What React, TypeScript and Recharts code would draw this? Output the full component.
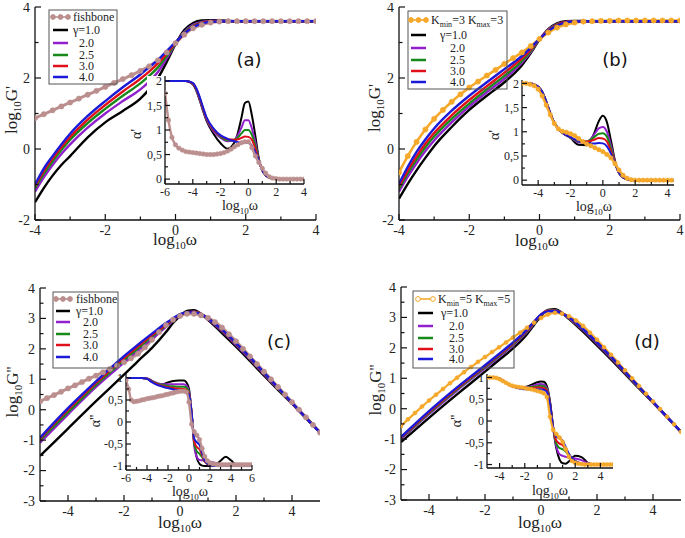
import React from 'react';
import { LineChart, Line, XAxis, YAxis } from 'recharts';

const FONT = "'Liberation Serif','DejaVu Serif',serif";
const SANS = "'DejaVu Sans','Liberation Sans',sans-serif";
const COL = { k: '#000000', p: '#9120cc', g: '#17891b', r: '#e0101a', b: '#1a1ad8', fish: '#bc8f8f', orange: '#f5a82a' };

// ---------- Panel (a): log G' main ----------
const aX = [-4, -3.75, -3.5, -3.25, -3, -2.5, -2, -1.5, -1, -0.75, -0.5, -0.25, 0, 0.25, 0.5, 0.75, 1, 1.5, 2, 3, 4];
const aG1 = [-1.5, -1.1, -0.75, -0.45, -0.2, 0.33, 0.75, 1.07, 1.42, 1.68, 2.0, 2.45, 2.95, 3.35, 3.55, 3.62, 3.63, 3.61, 3.6, 3.6, 3.6];
const aG2 = [-1.2, -0.8, -0.45, -0.14, 0.13, 0.6, 1.0, 1.35, 1.68, 1.9, 2.17, 2.55, 2.96, 3.3, 3.5, 3.58, 3.61, 3.6, 3.6, 3.6, 3.6];
const aG25 = [-1.1, -0.7, -0.35, -0.03, 0.26, 0.73, 1.13, 1.5, 1.85, 2.06, 2.3, 2.62, 2.97, 3.28, 3.47, 3.56, 3.59, 3.6, 3.6, 3.6, 3.6];
const aG3 = [-1.05, -0.62, -0.27, 0.05, 0.34, 0.83, 1.24, 1.62, 1.98, 2.18, 2.41, 2.69, 2.99, 3.26, 3.45, 3.55, 3.59, 3.6, 3.6, 3.6, 3.6];
const aG4 = [-1.0, -0.55, -0.2, 0.13, 0.43, 0.93, 1.35, 1.74, 2.1, 2.3, 2.51, 2.76, 3.01, 3.25, 3.43, 3.53, 3.58, 3.6, 3.6, 3.6, 3.6];
const aFX = [-4, -3.75, -3.5, -3.25, -3, -2.75, -2.5, -2.25, -2, -1.75, -1.5, -1.25, -1, -0.75, -0.5, -0.25, 0, 0.25, 0.5, 0.75, 1, 1.25, 1.5, 1.75, 2, 2.25, 2.5, 2.75, 3, 3.25, 3.5, 3.75, 4];
const aF = [0.87, 0.98, 1.09, 1.2, 1.31, 1.42, 1.53, 1.64, 1.75, 1.86, 1.97, 2.08, 2.2, 2.33, 2.5, 2.72, 2.98, 3.22, 3.4, 3.5, 3.56, 3.59, 3.6, 3.6, 3.6, 3.6, 3.6, 3.6, 3.6, 3.6, 3.6, 3.6, 3.6];

// ---------- Panel (a) inset: alpha' ----------
const aiX = [-6, -5, -4.5, -4, -3.75, -3.5, -3.25, -3, -2.5, -2, -1.5, -1, -0.75, -0.5, -0.25, 0, 0.25, 0.5, 0.75, 1, 1.5, 2, 3, 4];
const aiG1 = [2, 2, 2, 1.93, 1.8, 1.6, 1.38, 1.18, 0.92, 0.73, 0.62, 0.75, 0.95, 1.25, 1.55, 1.58, 1.3, 0.88, 0.42, 0.18, 0.03, 0, 0, 0];
const aiG2 = [2, 2, 2, 1.94, 1.82, 1.62, 1.4, 1.2, 0.97, 0.84, 0.77, 0.8, 0.9, 1.05, 1.2, 1.2, 1.03, 0.75, 0.4, 0.18, 0.03, 0, 0, 0];
const aiG25 = [2, 2, 2, 1.95, 1.83, 1.64, 1.42, 1.22, 1.0, 0.86, 0.79, 0.8, 0.85, 0.93, 1.0, 1.0, 0.9, 0.68, 0.4, 0.18, 0.03, 0, 0, 0];
const aiG3 = [2, 2, 2, 1.95, 1.84, 1.65, 1.43, 1.23, 1.01, 0.88, 0.81, 0.8, 0.81, 0.84, 0.87, 0.86, 0.8, 0.62, 0.39, 0.18, 0.03, 0, 0, 0];
const aiG4 = [2, 2, 2, 1.96, 1.85, 1.67, 1.45, 1.25, 1.03, 0.89, 0.82, 0.77, 0.75, 0.74, 0.75, 0.74, 0.68, 0.55, 0.38, 0.18, 0.03, 0, 0, 0];
const aiFX = [-6, -5.75, -5.5, -5.25, -5, -4.75, -4.5, -4.25, -4, -3.75, -3.5, -3.25, -3, -2.75, -2.5, -2.25, -2, -1.75, -1.5, -1.25, -1, -0.75, -0.5, -0.25, 0, 0.25, 0.5, 0.75, 1, 1.25, 1.5, 1.75, 2, 2.25, 2.5, 2.75, 3, 3.25, 3.5, 3.75, 4];
const aiF = [1.75, 1.2, 0.85, 0.7, 0.63, 0.59, 0.56, 0.55, 0.54, 0.53, 0.52, 0.51, 0.5, 0.5, 0.5, 0.51, 0.52, 0.54, 0.57, 0.61, 0.66, 0.7, 0.74, 0.76, 0.76, 0.64, 0.47, 0.34, 0.22, 0.12, 0.05, 0.02, 0.01, 0, 0, 0, 0, 0, 0, 0, 0];

// ---------- Panel (b): log G' main ----------
const bX = [-4, -3.75, -3.5, -3.25, -3, -2.5, -2, -1.5, -1, -0.5, -0.25, 0, 0.25, 0.5, 0.75, 1, 1.5, 2, 3, 4];
const bG1 = [-1.4, -0.98, -0.6, -0.25, 0.08, 0.62, 1.1, 1.5, 1.88, 2.36, 2.7, 3.08, 3.38, 3.54, 3.6, 3.61, 3.6, 3.6, 3.6, 3.6];
const bG2 = [-1.2, -0.78, -0.4, -0.06, 0.24, 0.75, 1.2, 1.6, 1.98, 2.43, 2.73, 3.09, 3.36, 3.52, 3.58, 3.6, 3.6, 3.6, 3.6, 3.6];
const bG25 = [-1.12, -0.68, -0.3, 0.05, 0.35, 0.85, 1.28, 1.68, 2.06, 2.48, 2.76, 3.09, 3.34, 3.51, 3.57, 3.6, 3.6, 3.6, 3.6, 3.6];
const bG3 = [-1.05, -0.6, -0.2, 0.15, 0.45, 0.95, 1.38, 1.77, 2.15, 2.55, 2.8, 3.1, 3.33, 3.5, 3.57, 3.59, 3.6, 3.6, 3.6, 3.6];
const bG4 = [-0.98, -0.5, -0.08, 0.27, 0.58, 1.08, 1.5, 1.88, 2.25, 2.62, 2.85, 3.1, 3.32, 3.48, 3.56, 3.59, 3.6, 3.6, 3.6, 3.6];
const bKX = [-4, -3.75, -3.5, -3.25, -3, -2.75, -2.5, -2.25, -2, -1.75, -1.5, -1.25, -1, -0.75, -0.5, -0.25, 0, 0.25, 0.5, 0.75, 1, 1.25, 1.5, 1.75, 2, 2.25, 2.5, 2.75, 3, 3.25, 3.5, 3.75, 4];
const bK = [-0.66, -0.2, 0.2, 0.55, 0.85, 1.1, 1.33, 1.54, 1.73, 1.9, 2.07, 2.23, 2.4, 2.56, 2.72, 2.9, 3.1, 3.28, 3.42, 3.51, 3.56, 3.59, 3.6, 3.61, 3.61, 3.62, 3.62, 3.62, 3.62, 3.62, 3.62, 3.62, 3.62];

// ---------- Panel (b) inset ----------
const biX = [-5, -4.5, -4.25, -4, -3.75, -3.5, -3.25, -3, -2.5, -2, -1.5, -1, -0.75, -0.5, -0.25, 0, 0.25, 0.5, 0.75, 1, 1.5, 2, 3, 4.4];
const biG1 = [2, 2, 1.98, 1.93, 1.82, 1.62, 1.38, 1.18, 0.98, 0.87, 0.73, 0.72, 0.82, 1.0, 1.22, 1.33, 1.2, 0.82, 0.4, 0.15, 0.02, 0, 0, 0];
const biG2 = [2, 2, 1.98, 1.93, 1.82, 1.62, 1.38, 1.18, 0.98, 0.88, 0.78, 0.78, 0.85, 0.96, 1.07, 1.1, 1.0, 0.72, 0.38, 0.15, 0.02, 0, 0, 0];
const biG25 = [2, 2, 1.98, 1.93, 1.82, 1.62, 1.38, 1.18, 0.98, 0.88, 0.8, 0.8, 0.84, 0.9, 0.96, 0.97, 0.9, 0.66, 0.37, 0.15, 0.02, 0, 0, 0];
const biG3 = [2, 2, 1.98, 1.93, 1.82, 1.62, 1.38, 1.18, 0.98, 0.89, 0.81, 0.8, 0.81, 0.84, 0.87, 0.86, 0.8, 0.6, 0.36, 0.15, 0.02, 0, 0, 0];
const biG4 = [2, 2, 1.98, 1.93, 1.82, 1.62, 1.38, 1.18, 0.98, 0.89, 0.81, 0.77, 0.76, 0.76, 0.77, 0.76, 0.7, 0.55, 0.34, 0.15, 0.02, 0, 0, 0];
const biKX = [-5, -4.75, -4.5, -4.25, -4, -3.75, -3.5, -3.25, -3, -2.75, -2.5, -2.25, -2, -1.75, -1.5, -1.25, -1, -0.75, -0.5, -0.25, 0, 0.25, 0.5, 0.75, 1, 1.25, 1.5, 1.75, 2, 2.25, 2.5, 2.75, 3, 3.25, 3.5, 3.75, 4, 4.25];
const biK = [2, 2, 1.98, 1.95, 1.88, 1.74, 1.55, 1.35, 1.17, 1.06, 1.01, 0.99, 0.96, 0.92, 0.86, 0.8, 0.75, 0.71, 0.67, 0.63, 0.59, 0.53, 0.46, 0.34, 0.21, 0.1, 0.04, 0.01, 0, 0, 0, 0, 0, 0, 0, 0, 0, 0];

// ---------- Panel (c): log G'' main ----------
const cX = [-5, -4, -3, -2, -1.5, -1, -0.5, -0.25, 0, 0.25, 0.5, 0.75, 1, 1.5, 2, 2.5, 3, 3.5, 4, 4.5, 5];
const cG1 = [-1.52, -0.62, 0.28, 1.15, 1.6, 2.03, 2.55, 2.85, 3.08, 3.25, 3.27, 3.15, 2.95, 2.52, 2.07, 1.6, 1.12, 0.65, 0.2, -0.28, -0.75];
const cG2 = [-1.08, -0.15, 0.75, 1.55, 1.95, 2.33, 2.72, 2.93, 3.1, 3.2, 3.22, 3.15, 2.98, 2.58, 2.13, 1.66, 1.17, 0.69, 0.21, -0.27, -0.75];
const cG25 = [-1.0, -0.08, 0.82, 1.63, 2.02, 2.4, 2.77, 2.96, 3.12, 3.2, 3.21, 3.15, 3.0, 2.61, 2.16, 1.69, 1.2, 0.7, 0.22, -0.27, -0.75];
const cG3 = [-0.95, 0.0, 0.88, 1.7, 2.08, 2.45, 2.8, 2.98, 3.13, 3.2, 3.21, 3.15, 3.0, 2.62, 2.18, 1.71, 1.21, 0.72, 0.22, -0.27, -0.75];
const cG4 = [-0.92, 0.05, 0.93, 1.76, 2.14, 2.5, 2.85, 3.0, 3.14, 3.2, 3.2, 3.14, 3.0, 2.63, 2.19, 1.72, 1.22, 0.72, 0.23, -0.27, -0.75];
const cFX = [-5, -4.75, -4.5, -4.25, -4, -3.75, -3.5, -3.25, -3, -2.75, -2.5, -2.25, -2, -1.75, -1.5, -1.25, -1, -0.75, -0.5, -0.25, 0, 0.25, 0.5, 0.75, 1, 1.25, 1.5, 1.75, 2, 2.25, 2.5, 2.75, 3, 3.25, 3.5, 3.75, 4, 4.25, 4.5, 4.75, 5];
const cF = [0.27, 0.38, 0.48, 0.59, 0.7, 0.8, 0.91, 1.02, 1.12, 1.23, 1.34, 1.45, 1.56, 1.69, 1.84, 2.05, 2.3, 2.55, 2.78, 2.96, 3.08, 3.15, 3.15, 3.1, 3.02, 2.88, 2.7, 2.48, 2.25, 2.0, 1.75, 1.5, 1.25, 1.0, 0.75, 0.5, 0.25, 0.0, -0.25, -0.5, -0.75];

// ---------- Panel (c) inset: alpha'' ----------
const ciX = [-6, -5, -4.5, -4, -3.5, -3, -2.5, -2, -1.5, -1, -0.5, -0.25, 0, 0.25, 0.5, 0.75, 1, 1.25, 1.5, 2, 2.5, 3, 3.5, 4, 4.5, 5, 5.5, 6];
const ciG1 = [1, 1, 1, 0.99, 0.93, 0.86, 0.86, 0.9, 0.93, 0.94, 0.94, 0.9, 0.75, 0.2, -0.45, -0.82, -0.95, -0.99, -1, -1, -0.98, -0.88, -0.79, -0.87, -0.98, -1, -1, -1];
const ciG2 = [1, 1, 1, 0.99, 0.93, 0.88, 0.86, 0.86, 0.86, 0.86, 0.86, 0.83, 0.7, 0.2, -0.55, -0.8, -0.86, -0.87, -0.88, -0.9, -0.93, -0.96, -0.98, -1, -1, -1, -1, -1];
const ciG25 = [1, 1, 1, 0.98, 0.92, 0.87, 0.84, 0.82, 0.81, 0.8, 0.8, 0.78, 0.68, 0.2, -0.5, -0.67, -0.72, -0.8, -0.9, -0.98, -1, -1, -1, -1, -1, -1, -1, -1];
const ciG3 = [1, 1, 1, 0.98, 0.91, 0.86, 0.82, 0.79, 0.77, 0.76, 0.75, 0.73, 0.65, 0.2, -0.45, -0.57, -0.62, -0.75, -0.9, -0.98, -1, -1, -1, -1, -1, -1, -1, -1];
const ciG4 = [1, 1, 1, 0.98, 0.9, 0.84, 0.8, 0.77, 0.74, 0.72, 0.7, 0.68, 0.62, 0.2, -0.38, -0.46, -0.52, -0.7, -0.88, -0.98, -1, -1, -1, -1, -1, -1, -1, -1];
const ciFX = [-6, -5.75, -5.5, -5.25, -5, -4.75, -4.5, -4.25, -4, -3.75, -3.5, -3.25, -3, -2.75, -2.5, -2.25, -2, -1.75, -1.5, -1.25, -1, -0.75, -0.5, -0.25, 0, 0.25, 0.5, 0.75, 1, 1.25, 1.5, 1.75, 2, 2.25, 2.5, 2.75, 3, 3.25, 3.5, 3.75, 4, 4.25, 4.5, 4.75, 5, 5.25, 5.5, 5.75, 6];
const ciF = [0.95, 0.75, 0.5, 0.46, 0.47, 0.48, 0.5, 0.51, 0.53, 0.54, 0.55, 0.56, 0.58, 0.59, 0.6, 0.62, 0.63, 0.65, 0.66, 0.68, 0.69, 0.7, 0.7, 0.68, 0.45, -0.05, -0.22, -0.3, -0.4, -0.6, -0.78, -0.88, -0.93, -0.95, -0.96, -0.97, -0.97, -0.97, -0.97, -0.97, -0.97, -0.97, -0.97, -0.97, -0.97, -0.97, -0.97, -0.97, -0.97];

// ---------- Panel (d): log G'' main ----------
const dX = [-5, -4, -3, -2, -1.5, -1, -0.5, -0.25, 0, 0.25, 0.5, 0.75, 1, 1.5, 2, 2.5, 3, 3.5, 4, 4.5, 5];
const dG1 = [-1.1, -0.3, 0.47, 1.22, 1.6, 1.98, 2.45, 2.75, 3.05, 3.25, 3.27, 3.15, 2.95, 2.53, 2.08, 1.62, 1.14, 0.67, 0.2, -0.28, -0.76];
const dG2 = [-1.0, -0.18, 0.6, 1.33, 1.7, 2.08, 2.52, 2.8, 3.08, 3.23, 3.24, 3.14, 2.97, 2.58, 2.14, 1.67, 1.18, 0.69, 0.21, -0.28, -0.76];
const dG25 = [-0.97, -0.14, 0.64, 1.37, 1.74, 2.12, 2.55, 2.82, 3.08, 3.22, 3.23, 3.14, 2.98, 2.6, 2.16, 1.69, 1.2, 0.7, 0.22, -0.27, -0.76];
const dG3 = [-0.95, -0.11, 0.67, 1.4, 1.77, 2.15, 2.57, 2.84, 3.09, 3.21, 3.22, 3.14, 2.99, 2.61, 2.17, 1.7, 1.21, 0.71, 0.22, -0.27, -0.76];
const dG4 = [-0.93, -0.08, 0.7, 1.43, 1.8, 2.18, 2.6, 2.86, 3.1, 3.2, 3.21, 3.13, 3.0, 2.62, 2.18, 1.71, 1.22, 0.72, 0.23, -0.27, -0.76];
const dKX = [-5, -4.75, -4.5, -4.25, -4, -3.75, -3.5, -3.25, -3, -2.75, -2.5, -2.25, -2, -1.75, -1.5, -1.25, -1, -0.75, -0.5, -0.25, 0, 0.25, 0.5, 0.75, 1, 1.25, 1.5, 1.75, 2, 2.25, 2.5, 2.75, 3, 3.25, 3.5, 3.75, 4, 4.25, 4.5, 4.75, 5];
const dK = [-0.57, -0.35, -0.14, 0.07, 0.27, 0.46, 0.65, 0.84, 1.02, 1.2, 1.37, 1.54, 1.7, 1.86, 2.02, 2.18, 2.34, 2.5, 2.66, 2.83, 2.98, 3.1, 3.15, 3.12, 3.04, 2.9, 2.72, 2.5, 2.27, 2.02, 1.77, 1.52, 1.26, 1.0, 0.75, 0.49, 0.24, -0.01, -0.26, -0.51, -0.76];

// ---------- Panel (d) inset ----------
const diX = [-5, -4.5, -4, -3.5, -3, -2.5, -2, -1.5, -1, -0.75, -0.5, -0.25, 0, 0.25, 0.5, 0.75, 1, 1.25, 1.5, 2, 2.5, 3, 3.5, 4, 4.5, 5];
const diG1 = [1, 1, 0.97, 0.88, 0.8, 0.77, 0.78, 0.83, 0.89, 0.91, 0.9, 0.8, 0.45, -0.15, -0.62, -0.88, -0.97, -0.98, -0.93, -0.8, -0.83, -0.96, -1, -1, -1, -1];
const diG2 = [1, 1, 0.97, 0.88, 0.8, 0.77, 0.77, 0.8, 0.84, 0.85, 0.84, 0.76, 0.43, -0.15, -0.58, -0.76, -0.8, -0.82, -0.84, -0.86, -0.9, -0.97, -1, -1, -1, -1];
const diG25 = [1, 1, 0.97, 0.88, 0.8, 0.76, 0.76, 0.78, 0.8, 0.81, 0.8, 0.73, 0.42, -0.15, -0.52, -0.62, -0.65, -0.7, -0.8, -0.92, -0.98, -1, -1, -1, -1, -1];
const diG3 = [1, 1, 0.97, 0.88, 0.8, 0.76, 0.75, 0.76, 0.77, 0.77, 0.76, 0.7, 0.4, -0.15, -0.45, -0.52, -0.55, -0.65, -0.78, -0.92, -0.98, -1, -1, -1, -1, -1];
const diG4 = [1, 1, 0.97, 0.88, 0.8, 0.75, 0.73, 0.73, 0.73, 0.73, 0.72, 0.67, 0.38, -0.15, -0.36, -0.4, -0.45, -0.6, -0.75, -0.92, -0.98, -1, -1, -1, -1, -1];
const diKX = [-5, -4.75, -4.5, -4.25, -4, -3.75, -3.5, -3.25, -3, -2.75, -2.5, -2.25, -2, -1.75, -1.5, -1.25, -1, -0.75, -0.5, -0.25, 0, 0.25, 0.5, 0.75, 1, 1.25, 1.5, 1.75, 2, 2.25, 2.5, 2.75, 3, 3.25, 3.5, 3.75, 4, 4.25, 4.5, 4.75, 5];
const diK = [1, 1, 1, 0.99, 0.96, 0.92, 0.88, 0.84, 0.81, 0.79, 0.78, 0.77, 0.76, 0.74, 0.73, 0.71, 0.69, 0.67, 0.64, 0.55, 0.1, -0.2, -0.3, -0.38, -0.48, -0.65, -0.82, -0.92, -0.96, -0.98, -0.99, -1, -1, -1, -1, -1, -1, -1, -1, -1, -1];

// ---------- tick labels ----------
const tkMainX4 = [-4, -2, 0, 2, 4];
const tkMainX4m = [-3, -1, 1, 3];
const tkMainY6 = [-2, 0, 2, 4];
const tkMainY6m = [-1, 1, 3];
const tkMainY7 = [-3, -2, -1, 0, 1, 2, 3, 4];
const tkMainY7m = [-2.5, -1.5, -0.5, 0.5, 1.5, 2.5, 3.5];
const tkInA_X = [-6, -4, -2, 0, 2, 4];
const tkInA_Xm = [-5, -3, -1, 1, 3];
const tkInAlpha1 = [0, 0.5, 1, 1.5, 2];
const tkInAlpha1m = [0.25, 0.75, 1.25, 1.75];
const tkInC_X = [-6, -4, -2, 0, 2, 4, 6];
const tkInC_Xm = [-5, -3, -1, 1, 3, 5];
const tkInAlpha2 = [-1, -0.5, 0, 0.5, 1];
const tkInAlpha2m = [-0.75, -0.25, 0.25, 0.75];
const legendGamma = ['\u03b3=1.0', '2.0', '2.5', '3.0', '4.0'];
const gammaColors = [COL.k, COL.p, COL.g, COL.r, COL.b];

const fmtInt = (v: number) => String(Math.round(v));
const fmtComma = (v: number) => String(Math.round(v * 100) / 100).replace('.', ',');

type S = { xs: number[]; ys: number[]; color: string; w: number; dot?: number };

function makeTick(side: string, majors: number[], o: any, withLabel: boolean) {
  return (p: any) => {
    const x = p.x, y = p.y;
    const v = p.payload ? p.payload.value : 0;
    const maj = majors.some((m) => Math.abs(m - v) < 1e-9);
    const L = maj ? o.len : o.mlen;
    let ln: any = null;
    if (side === 'b') ln = <line x1={x} y1={y} x2={x} y2={y - L} stroke="#111" strokeWidth={1.2} />;
    if (side === 't') ln = <line x1={x} y1={y} x2={x} y2={y + L} stroke="#111" strokeWidth={1.2} />;
    if (side === 'l') ln = <line x1={x} y1={y} x2={x + L} y2={y} stroke="#111" strokeWidth={1.2} />;
    if (side === 'r') ln = <line x1={x} y1={y} x2={x - L} y2={y} stroke="#111" strokeWidth={1.2} />;
    let lab: any = null;
    if (withLabel && maj) {
      if (side === 'b')
        lab = <text x={x} y={y + o.xgap} textAnchor="middle" fontFamily={FONT} fontSize={o.fs} fill="#222">{o.fmt(v)}</text>;
      if (side === 'l')
        lab = <text x={x - o.ygap} y={y + o.fs * 0.35} textAnchor="end" fontFamily={FONT} fontSize={o.fs} fill="#222">{o.fmt(v)}</text>;
    }
    return <g>{ln}{lab}</g>;
  };
}

function Plot(q: any) {
  const ml = 50, mt = 4, mr = 4, mb = 30;
  const pw = q.R - q.L, ph = q.B - q.T;
  const W = pw + ml + mr, H = ph + mt + mb;
  const xt = [...q.xMaj, ...q.xMin].sort((a: number, b: number) => a - b);
  const yt = [...q.yMaj, ...q.yMin].sort((a: number, b: number) => a - b);
  const o = { len: q.len, mlen: q.mlen, fs: q.fs, fmt: q.fmt, xgap: q.xgap, ygap: q.ygap };
  const al = { stroke: '#111', strokeWidth: 1.3 };
  return (
    <div style={{ position: 'absolute', left: q.L - ml, top: q.T - mt, width: W, height: H }}>
      {q.bg !== undefined && (
        <div style={{ position: 'absolute', left: ml - q.bg, top: mt, width: pw + q.bg, height: ph, background: '#fff' }} />
      )}
      <LineChart width={W} height={H} margin={{ top: mt, right: mr, bottom: 0, left: 0 }}>
        <XAxis xAxisId="b" orientation="bottom" type="number" dataKey="x" domain={q.xd} allowDataOverflow ticks={xt} interval={0}
          height={mb} tickSize={0} tickMargin={0} tickLine={false} axisLine={al} tick={makeTick('b', q.xMaj, o, true)} />
        <XAxis xAxisId="t" orientation="top" type="number" dataKey="x" domain={q.xd} allowDataOverflow ticks={xt} interval={0}
          height={0} tickSize={0} tickMargin={0} tickLine={false} axisLine={al} tick={makeTick('t', q.xMaj, o, false)} />
        <YAxis yAxisId="l" orientation="left" type="number" domain={q.yd} allowDataOverflow ticks={yt} interval={0}
          width={ml} tickSize={0} tickMargin={0} tickLine={false} axisLine={al} tick={makeTick('l', q.yMaj, o, true)} />
        <YAxis yAxisId="r" orientation="right" type="number" domain={q.yd} allowDataOverflow ticks={yt} interval={0}
          width={0} tickSize={0} tickMargin={0} tickLine={false} axisLine={al} tick={makeTick('r', q.yMaj, o, false)} />
        {q.series.map((s: S, i: number) => (
          <Line key={i} xAxisId="b" yAxisId="l" data={s.xs.map((x, j) => ({ x, y: s.ys[j] }))} dataKey="y" type="monotone"
            stroke={s.color} strokeWidth={s.w}
            dot={s.dot ? { r: s.dot, fill: s.color, stroke: s.color, strokeWidth: 0.6 } : false}
            activeDot={false} isAnimationActive={false} />
        ))}
      </LineChart>
    </div>
  );
}

function gammaSeries(xs: number[], ys: number[][], w: number): S[] {
  return ys.map((y, i) => ({ xs, ys: y, color: gammaColors[i], w }));
}

const mainOpts = { fs: 14, len: 6, mlen: 3.5, xgap: 15, ygap: 5, fmt: fmtInt };
const inOpts = { fs: 12, len: 5, mlen: 3, xgap: 11.5, ygap: 3, fmt: fmtComma };

function Sub({ x, y, main, sub, rest, fs, rot, anchor }: any) {
  const sfs = Math.round(fs * 0.65);
  return (
    <text x={x} y={y} fontFamily={FONT} fontSize={fs} fill="#222" textAnchor={anchor || 'middle'}
      transform={rot ? `rotate(-90 ${x} ${y})` : undefined}>
      {main}
      <tspan dy={fs * 0.25} fontSize={sfs}>{sub}</tspan>
      <tspan dy={-fs * 0.25}>{rest}</tspan>
    </text>
  );
}

function LegendBox({ box, rows, lx1, lx2, first, firstColor, firstX, gx, nx, hollow }: any) {
  return (
    <g>
      <rect x={box[0]} y={box[1]} width={box[2]} height={box[3]} fill="none" stroke="#555" strokeWidth={1} />
      <line x1={lx1} y1={rows[0]} x2={lx2} y2={rows[0]} stroke={firstColor} strokeWidth={1.6} />
      {[lx1, (lx1 + lx2) / 2, lx2].map((cx, i) =>
        hollow && i === 1 ? null : (
          <circle key={i} cx={cx} cy={rows[0]} r={2.4} fill={hollow ? '#fff' : firstColor} stroke={firstColor} strokeWidth={1} />
        )
      )}
      <text x={firstX} y={rows[0] + 4} fontFamily={FONT} fontSize={12} fill="#222">{first}</text>
      {legendGamma.map((t, i) => (
        <g key={i}>
          <line x1={lx1} y1={rows[i + 1]} x2={lx2} y2={rows[i + 1]} stroke={gammaColors[i]} strokeWidth={2.5} />
          <text x={i === 0 ? gx : nx} y={rows[i + 1] + 4} fontFamily={FONT} fontSize={12} fill="#222">{t}</text>
        </g>
      ))}
    </g>
  );
}

function KLabel({ n }: any) {
  return (
    <>
      K<tspan dy={2.5} fontSize={8}>min</tspan><tspan dy={-2.5}>={n} K</tspan><tspan dy={2.5} fontSize={8}>max</tspan><tspan dy={-2.5}>={n}</tspan>
    </>
  );
}

export default function App() {
  return (
    <div style={{ position: 'absolute', left: 0, top: 0, width: 685, height: 538, background: '#fff', overflow: 'hidden' }}>
      {/* Main panels (reference series drawn first, underneath) */}
      <Plot L={35} R={316} T={7} B={220} xd={[-4, 4]} yd={[-2, 4]} xMaj={tkMainX4} xMin={tkMainX4m} yMaj={tkMainY6} yMin={tkMainY6m} {...mainOpts}
        series={[{ xs: aFX, ys: aF, color: COL.fish, w: 3, dot: 2.6 }, ...gammaSeries(aX, [aG1, aG2, aG25, aG3, aG4], 2.4)]} />
      <Plot L={399} R={680} T={7} B={220} xd={[-4, 4]} yd={[-2, 4]} xMaj={tkMainX4} xMin={tkMainX4m} yMaj={tkMainY6} yMin={tkMainY6m} {...mainOpts}
        series={[{ xs: bKX, ys: bK, color: COL.orange, w: 2.6, dot: 2.6 }, ...gammaSeries(bX, [bG1, bG2, bG25, bG3, bG4], 2.4)]} />
      <Plot L={40} R={320} T={288} B={501} xd={[-5, 5]} yd={[-3, 4]} xMaj={tkMainX4} xMin={tkMainX4m} yMaj={tkMainY7} yMin={tkMainY7m} {...mainOpts}
        series={[{ xs: cFX, ys: cF, color: COL.fish, w: 3, dot: 2.6 }, ...gammaSeries(cX, [cG1, cG2, cG25, cG3, cG4], 2.4)]} />
      <Plot L={401} R={681} T={287} B={500} xd={[-5, 5]} yd={[-3, 4]} xMaj={tkMainX4} xMin={tkMainX4m} yMaj={tkMainY7} yMin={tkMainY7m} {...mainOpts}
        series={[{ xs: dKX, ys: dK, color: COL.orange, w: 2.2, dot: 2.0 }, ...gammaSeries(dX, [dG1, dG2, dG25, dG3, dG4], 2.4)]} />

      {/* Insets */}
      <Plot L={165} R={304} T={76} B={184} xd={[-6, 4]} yd={[-0.1, 2.1]} xMaj={tkInA_X} xMin={tkInA_Xm} yMaj={tkInAlpha1} yMin={tkInAlpha1m} {...inOpts} bg={18}
        series={[...gammaSeries(aiX, [aiG1, aiG2, aiG25, aiG3, aiG4], 2.0), { xs: aiFX, ys: aiF, color: COL.fish, w: 2.4, dot: 2.2 }]} />
      <Plot L={522} R={674} T={80} B={185} xd={[-5, 4.4]} yd={[-0.1, 2.07]} xMaj={tkMainX4} xMin={tkMainX4m} yMaj={tkInAlpha1} yMin={tkInAlpha1m} {...inOpts} bg={0}
        series={[...gammaSeries(biX, [biG1, biG2, biG25, biG3, biG4], 2.0), { xs: biKX, ys: biK, color: COL.orange, w: 2.4, dot: 2.2 }]} />
      <Plot L={126} R={252} T={374} B={470} xd={[-6, 6]} yd={[-1.09, 1.09]} xMaj={tkInC_X} xMin={tkInC_Xm} yMaj={tkInAlpha2} yMin={tkInAlpha2m} {...inOpts} bg={0}
        series={[...gammaSeries(ciX, [ciG1, ciG2, ciG25, ciG3, ciG4], 2.0), { xs: ciFX, ys: ciF, color: COL.fish, w: 2.4, dot: 2.2 }]} />
      <Plot L={487} R={613} T={374} B={468} xd={[-5, 5]} yd={[-1.08, 1.08]} xMaj={tkMainX4} xMin={tkMainX4m} yMaj={tkInAlpha2} yMin={tkInAlpha2m} {...inOpts} bg={0}
        series={[...gammaSeries(diX, [diG1, diG2, diG25, diG3, diG4], 2.0), { xs: diKX, ys: diK, color: COL.orange, w: 2.2, dot: 2.0 }]} />

      {/* Overlay: titles, legends, panel labels */}
      <svg width={685} height={538} style={{ position: 'absolute', left: 0, top: 0, pointerEvents: 'none' }}>
        <Sub x={175} y={245} main="log" sub="10" rest={'\u03c9'} fs={17} />
        <Sub x={537} y={246} main="log" sub="10" rest={'\u03c9'} fs={17} />
        <Sub x={180} y={528} main="log" sub="10" rest={'\u03c9'} fs={17} />
        <Sub x={540} y={528} main="log" sub="10" rest={'\u03c9'} fs={17} />
        <Sub x={17} y={110} main="log" sub="10" rest="G'" fs={17} rot />
        <Sub x={380} y={108} main="log" sub="10" rest="G'" fs={17} rot />
        <Sub x={18} y={392} main="log" sub="10" rest="G''" fs={17} rot />
        <Sub x={381} y={390} main="log" sub="10" rest="G''" fs={17} rot />

        <Sub x={240} y={210} main="log" sub="10" rest={'\u03c9'} fs={14} />
        <Sub x={594} y={211} main="log" sub="10" rest={'\u03c9'} fs={14} />
        <Sub x={190} y={496} main="log" sub="10" rest={'\u03c9'} fs={14} />
        <Sub x={550} y={495} main="log" sub="10" rest={'\u03c9'} fs={14} />
        <text x={141} y={134} transform="rotate(-90 141 134)" textAnchor="middle" fontFamily={FONT} fontSize={14} fill="#222">{"\u03b1'"}</text>
        <text x={499} y={135} transform="rotate(-90 499 135)" textAnchor="middle" fontFamily={FONT} fontSize={14} fill="#222">{"\u03b1'"}</text>
        <text x={100} y={421} transform="rotate(-90 100 421)" textAnchor="middle" fontFamily={FONT} fontSize={14} fill="#222">{"\u03b1''"}</text>
        <text x={461} y={421} transform="rotate(-90 461 421)" textAnchor="middle" fontFamily={FONT} fontSize={14} fill="#222">{"\u03b1''"}</text>

        <text x={249} y={66} textAnchor="middle" fontFamily={SANS} fontSize={18} fill="#111">(a)</text>
        <text x={615} y={66} textAnchor="middle" fontFamily={SANS} fontSize={18} fill="#111">(b)</text>
        <text x={279} y={348} textAnchor="middle" fontFamily={SANS} fontSize={18} fill="#111">(c)</text>
        <text x={647} y={348} textAnchor="middle" fontFamily={SANS} fontSize={18} fill="#111">(d)</text>

        <LegendBox box={[49, 10, 68, 74]} rows={[17, 30, 43, 55, 66, 77]} lx1={53} lx2={68} first="fishbone" firstColor={COL.fish} firstX={73} gx={73} nx={79} />
        <LegendBox box={[408, 11, 99, 78]} rows={[20, 35, 48, 60, 71, 82]} lx1={411} lx2={426} first={<KLabel n={3} />} firstColor={COL.orange} firstX={431} gx={440} nx={450} />
        <LegendBox box={[53, 292, 65, 76]} rows={[299, 311, 322, 334, 345, 357]} lx1={56} lx2={70} first="fishbone" firstColor={COL.fish} firstX={76} gx={76} nx={83} />
        <LegendBox box={[413, 291, 101, 77]} rows={[299, 313, 326, 338, 349, 359]} lx1={418} lx2={433} first={<KLabel n={5} />} firstColor={COL.orange} firstX={438} gx={441} nx={449} hollow />
      </svg>
    </div>
  );
}
